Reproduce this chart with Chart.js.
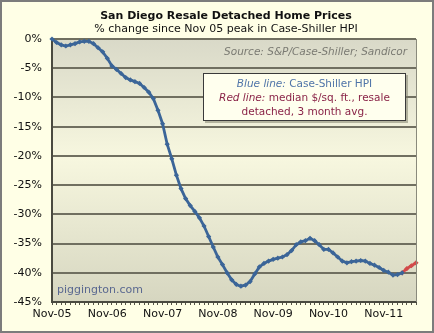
<!DOCTYPE html>
<html>
<head>
<meta charset="utf-8">
<script src="https://cdn.jsdelivr.net/npm/chart.js@4.4.1/dist/chart.umd.min.js"></script>
<style>
  html, body { margin: 0; padding: 0; background: #ffffff; }
  #wrap { width: 434px; height: 333px; position: relative; }
</style>
</head>
<body>
<div id="wrap"><canvas id="chart" width="434" height="333"></canvas></div>
<script>
// month categories, Nov-05 .. Jun-12
const monthNames = ['Jan', 'Feb', 'Mar', 'Apr', 'May', 'Jun', 'Jul', 'Aug', 'Sep', 'Oct', 'Nov', 'Dec'];
const meses = [];
for (let k = 0; k < 80; k++) {
    const m = (10 + k) % 12;
    const y = 5 + Math.floor((10 + k) / 12);
    meses.push(monthNames[m] + '-' + String(y).padStart(2, '0'));
}

// Case-Shiller HPI, % change since Nov 05 peak
const hpiValores = [
    0, -0.6, -1.0, -1.2, -1.0, -0.8, -0.5, -0.4, -0.4, -0.8,
    -1.5, -2.2, -3.3, -4.6, -5.2, -5.9, -6.6, -7.0, -7.3, -7.6,
    -8.3, -9.1, -10.2, -12.2, -14.5, -18.0, -20.5, -23.3, -25.6, -27.3,
    -28.5, -29.5, -30.6, -32.0, -33.8, -35.6, -37.3, -38.6, -40.0, -41.2,
    -42.0, -42.3, -42.1, -41.5, -40.2, -39.0, -38.4, -38.0, -37.7, -37.5,
    -37.3, -36.9, -36.2, -35.2, -34.7, -34.5, -34.1, -34.5, -35.2, -36.0,
    -36.0, -36.6, -37.3, -38.0, -38.3, -38.1, -38.0, -37.9, -38.0, -38.4,
    -38.7, -39.1, -39.6, -39.9, -40.4, -40.3, -40.0, null, null, null
];

// median $/sq. ft. resale detached (3 month avg), spliced on the end
const sqftValores = [];
for (let k = 0; k < 76; k++) sqftValores.push(null);
sqftValores.push(-40.0, -39.3, -38.8, -38.3);

const yTicks = [0, -5, -10, -15, -20, -25, -30, -35, -40, -45];

const FONT = '"DejaVu Sans", Verdana, sans-serif';

// fondo, titulos, recuadro y textos sueltos
const decoPlugin = {
    id: 'deco',
    beforeDraw(chart) {
        const ctx = chart.ctx;
        const a = chart.chartArea;
        ctx.save();
        ctx.fillStyle = '#ffffe6';
        ctx.fillRect(0, 0, chart.width, chart.height);
        const g = ctx.createLinearGradient(0, a.top, 0, a.bottom);
        g.addColorStop(0, '#d9d9c8');
        g.addColorStop(0.45, '#f7f7df');
        g.addColorStop(1, '#d6d6c0');
        ctx.fillStyle = g;
        ctx.fillRect(a.left, a.top, a.right - a.left, a.bottom - a.top);
        ctx.restore();
    },
    afterDraw(chart) {
        const ctx = chart.ctx;
        const a = chart.chartArea;
        ctx.save();

        // borde derecho del area
        ctx.strokeStyle = '#8a8a7c';
        ctx.lineWidth = 1;
        ctx.beginPath();
        ctx.moveTo(a.right + 0.5, a.top);
        ctx.lineTo(a.right + 0.5, a.bottom);
        ctx.stroke();

        // titulos
        ctx.textAlign = 'center';
        ctx.textBaseline = 'middle';
        ctx.fillStyle = '#111111';
        ctx.font = 'bold 11px ' + FONT;
        ctx.fillText('San Diego Resale Detached Home Prices', 226, 16);
        ctx.font = '11px ' + FONT;
        ctx.fillText('% change since Nov 05 peak in Case-Shiller HPI', 226, 29);

        // fuente
        ctx.textAlign = 'right';
        ctx.fillStyle = '#7a7a72';
        ctx.font = 'italic 10.5px ' + FONT;
        ctx.fillText('Source: S&P/Case-Shiller; Sandicor', 407, 52);

        // watermark
        ctx.textAlign = 'left';
        ctx.fillStyle = '#5a6890';
        ctx.font = '11px ' + FONT;
        ctx.fillText('piggington.com', 57, 290);

        // recuadro leyenda
        const bx = 203, by = 73, bw = 203, bh = 48;
        ctx.fillStyle = 'rgba(120,120,100,0.5)';
        ctx.fillRect(bx + 2, by + 2, bw, bh);
        ctx.fillStyle = '#ffffee';
        ctx.fillRect(bx, by, bw, bh);
        ctx.strokeStyle = '#3a3a3a';
        ctx.lineWidth = 1;
        ctx.strokeRect(bx + 0.5, by + 0.5, bw - 1, bh - 1);

        const cx = bx + bw / 2;
        function linea(partes, y) {
            let total = 0;
            partes.forEach(p => { ctx.font = p.f; total += ctx.measureText(p.t).width; });
            let x = cx - total / 2;
            ctx.textAlign = 'left';
            partes.forEach(p => {
                ctx.font = p.f;
                ctx.fillStyle = p.c;
                ctx.fillText(p.t, x, y);
                x += ctx.measureText(p.t).width;
            });
        }
        const azul = '#4f74a8';
        const rojo = '#8a2448';
        linea([{ t: 'Blue line:', f: 'italic 10.5px ' + FONT, c: azul },
               { t: ' Case-Shiller HPI', f: '10.5px ' + FONT, c: azul }], by + 11);
        linea([{ t: 'Red line:', f: 'italic 10.5px ' + FONT, c: rojo },
               { t: ' median $/sq. ft., resale', f: '10.5px ' + FONT, c: rojo }], by + 25);
        linea([{ t: 'detached, 3 month avg.', f: '10.5px ' + FONT, c: rojo }], by + 39);

        // borde exterior
        ctx.strokeStyle = '#7c7c7c';
        ctx.lineWidth = 2;
        ctx.strokeRect(1, 1, chart.width - 2, chart.height - 2);
        ctx.restore();
    }
};

new Chart(document.getElementById('chart'), {
    type: 'line',
    data: {
        labels: meses,
        datasets: [{
            label: 'Case-Shiller HPI',
            data: hpiValores,
            borderColor: '#3b6598',
            backgroundColor: '#3b6598',
            borderWidth: 2.8,
            pointStyle: 'rectRot',
            pointRadius: 2.6,
            pointBorderWidth: 0,
            tension: 0,
            clip: false
        }, {
            label: 'median $/sq. ft.',
            data: sqftValores,
            borderColor: '#d24a4a',
            backgroundColor: '#d24a4a',
            borderWidth: 2.8,
            pointStyle: 'rectRot',
            pointRadius: 2.6,
            pointBorderWidth: 0,
            tension: 0,
            clip: false
        }]
    },
    options: {
        responsive: false,
        animation: false,
        layout: {
            padding: { left: 0, right: 18, top: 39, bottom: 0 }
        },
        plugins: {
            legend: { display: false },
            title: { display: false },
            tooltip: { enabled: false }
        },
        scales: {
            x: {
                type: 'category',
                offset: false,
                afterFit: function (scale) { scale.height = 31; },
                grid: {
                    display: true,
                    drawOnChartArea: false,
                    drawTicks: true,
                    tickLength: 3,
                    tickColor: '#555548',
                    tickWidth: 1
                },
                border: { display: true, color: '#4a4a40', width: 2 },
                ticks: {
                    autoSkip: false,
                    maxRotation: 0,
                    minRotation: 0,
                    padding: 3,
                    color: '#111111',
                    font: { family: FONT, size: 11 },
                    callback: function (val, i) {
                        const l = meses[i];
                        return l.startsWith('Nov') ? l : '';
                    }
                }
            },
            y: {
                min: -45,
                max: 0,
                afterFit: function (scale) { scale.width = 52; },
                afterBuildTicks: function (scale) {
                    scale.ticks = yTicks.map(v => ({ value: v }));
                },
                grid: {
                    color: '#706f60',
                    lineWidth: 2,
                    drawTicks: false
                },
                border: { display: true, color: '#4a4a40', width: 2 },
                ticks: {
                    padding: 10,
                    color: '#111111',
                    font: { family: FONT, size: 11 },
                    callback: function (v) { return v + '%'; }
                }
            }
        }
    },
    plugins: [decoPlugin]
});
</script>
</body>
</html>
